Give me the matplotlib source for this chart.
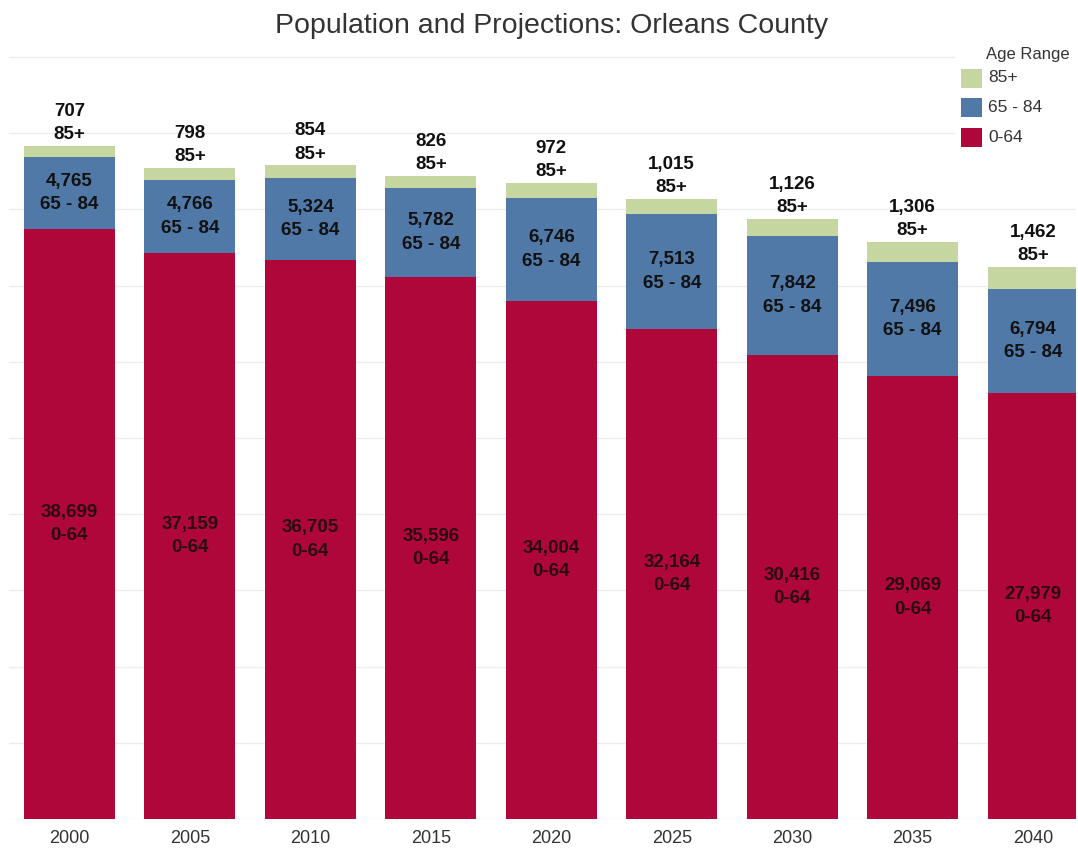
import matplotlib
matplotlib.use("Agg")
import matplotlib.pyplot as plt
from matplotlib.patches import Rectangle
import numpy as np

years = ["2000", "2005", "2010", "2015", "2020", "2025", "2030", "2035", "2040"]
age_0_64 = [38699, 37159, 36705, 35596, 34004, 32164, 30416, 29069, 27979]
age_65_84 = [4765, 4766, 5324, 5782, 6746, 7513, 7842, 7496, 6794]
age_85p = [707, 798, 854, 826, 972, 1015, 1126, 1306, 1462]
series_names = ["0-64", "65 - 84", "85+"]
colors = ["#B0073A", "#5079A8", "#C6D6A1"]

plt.rcParams['font.family'] = ['Liberation Sans', 'DejaVu Sans']

W, H = 1078, 848
fig = plt.figure(figsize=(W / 100, H / 100), dpi=100)
ax = fig.add_axes([9.2 / W, 29 / H, (1076.5 - 9.2) / W, (819 - 49.4) / H])

x = np.arange(len(years))
width = 0.755
a = np.array(age_0_64)
b = np.array(age_65_84)
c = np.array(age_85p)

ax.bar(x, a, width, color=colors[0], zorder=2)
ax.bar(x, b, width, bottom=a, color=colors[1], zorder=2)
ax.bar(x, c, width, bottom=a + b, color=colors[2], zorder=2)

ax.set_xlim(-0.5, 8.36)
ax.set_ylim(0, 50500)
ax.set_yticks(np.arange(0, 50001, 5000))
ax.yaxis.grid(True, color="#EDEDED", linewidth=1.0, zorder=0)
ax.tick_params(axis='y', left=False, labelleft=False)
ax.tick_params(axis='x', length=0, pad=8, labelsize=13, labelcolor="#333333")
ax.set_xticks(x)
ax.set_xticklabels(years)
for s in ax.spines.values():
    s.set_visible(False)

lab_fs = 13.5
ls = 1.5
for i in range(len(years)):
    ax.text(x[i], a[i] / 2, f"{a[i]:,}\n0-64", ha='center', va='center',
            fontsize=lab_fs, fontweight='bold', color="#2a0a12", linespacing=ls, zorder=3)
    ax.text(x[i], a[i] + b[i] / 2, f"{b[i]:,}\n65 - 84", ha='center', va='center',
            fontsize=lab_fs, fontweight='bold', color="#111111", linespacing=ls, zorder=3)
    ax.annotate(f"{c[i]:,}\n85+", (x[i], a[i] + b[i] + c[i]), xytext=(0, 2),
                textcoords='offset points', ha='center', va='bottom',
                fontsize=lab_fs, fontweight='bold', color="#111111", linespacing=ls, zorder=3)

fig.text(552 / W, 1 - 26 / H, "Population and Projections: Orleans County",
         ha='center', va='center', fontsize=20.5, color="#333333")

# legend
fig.add_artist(Rectangle((955 / W, 1 - 150 / H), 123 / W, 108 / H, transform=fig.transFigure,
                         facecolor='white', edgecolor='none', zorder=5))
fig.text(1028 / W, 1 - 54 / H, "Age Range", ha='center', va='center', fontsize=12,
         color="#333333", zorder=6)
leg_items = [(series_names[2], colors[2], 78), (series_names[1], colors[1], 107), (series_names[0], colors[0], 137)]
for name, col, yc in leg_items:
    fig.add_artist(Rectangle((961 / W, 1 - (yc + 10) / H), 21 / W, 19 / H, transform=fig.transFigure,
                             facecolor=col, edgecolor='none', zorder=6))
    fig.text(988 / W, 1 - yc / H, name, ha='left', va='center', fontsize=12.5, color="#333333", zorder=6)

fig.savefig("out.png", dpi=100)
